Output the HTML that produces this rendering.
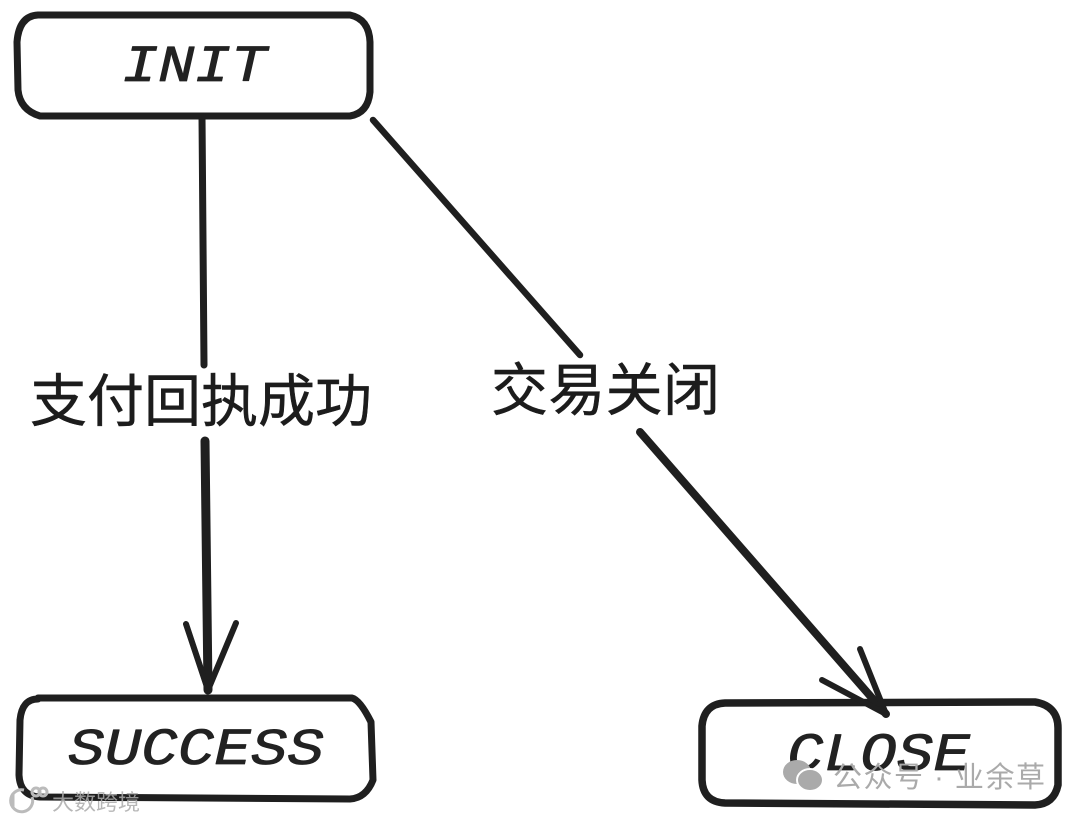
<!DOCTYPE html>
<html><head><meta charset="utf-8"><style>
html,body{margin:0;padding:0;background:#fff}
svg{display:block}
.h{font-family:"Liberation Mono",monospace;font-style:italic;fill:#222;stroke:#222;stroke-width:.8px;stroke-linejoin:round}
.c{font-family:"Liberation Sans","Noto Sans CJK SC",sans-serif;fill:#1c1c1c;stroke:#1c1c1c;stroke-width:.5px}
.w{font-family:"Liberation Sans","Noto Sans CJK SC",sans-serif;fill:#aaa}
</style></head><body>
<svg width="1080" height="820" viewBox="0 0 1080 820" xmlns="http://www.w3.org/2000/svg">
<rect width="1080" height="820" fill="#fff"/>
<g fill="none" stroke="#1f1f1f" stroke-linecap="round" stroke-linejoin="round">
<path d="M38 15 L350 15 Q369 19 370 42 L370 92 Q368 113 350 116 L40 116 Q20 110 18 90 L17 42 Q19 16 38 15Z" stroke-width="7"/>
<path d="M38 698 L352 698 Q360 700 371 722 L373 780 Q366 798 350 799 L40 797 Q20 796 19 775 L20 720 Q22 699 38 699Z" stroke-width="7"/>
<path d="M725 703 L1035 702 Q1058 706 1058 728 L1058 785 Q1054 804 1035 805 L725 803 Q703 802 702 780 L702 726 Q704 704 725 703Z" stroke-width="7.5"/>
<path d="M202 116 L204 365" stroke-width="7"/>
<path d="M205 441 L208 690" stroke-width="9"/>
<path d="M186 624 L208 690 L236 623" stroke-width="6"/>
<path d="M373 120 L580 355" stroke-width="6.5"/>
<path d="M640 432 L886 714" stroke-width="8"/>
<path d="M822 680 L886 714 L860 649" stroke-width="6"/>
</g>
<text class="h" x="122" y="81" font-size="52" textLength="145" lengthAdjust="spacingAndGlyphs">INIT</text>
<text class="h" x="68" y="764" font-size="52" textLength="256" lengthAdjust="spacingAndGlyphs">SUCCESS</text>
<text class="h" x="787" y="770" font-size="54" textLength="183" lengthAdjust="spacingAndGlyphs">CLOSE</text>
<text class="c" x="30" y="421" font-size="57" textLength="342">支付回执成功</text>
<text class="c" x="491" y="410" font-size="57" textLength="229">交易关闭</text>
<g fill="#aaa">
<ellipse cx="797" cy="772" rx="14" ry="12"/>
<ellipse cx="810" cy="780" rx="13" ry="11" stroke="#fff" stroke-width="2"/>
</g>
<text class="w" x="833" y="787" font-size="29" textLength="212">公众号 · 业余草</text>
<text class="w" x="52" y="810" font-size="22" textLength="88" fill-opacity=".85">大数跨境</text>
<g fill="none" stroke="#bbb" stroke-width="3">
<path d="M13 793 L13 808"/>
<path d="M32 797 A11 11 0 1 1 24 790"/>
<circle cx="36" cy="792" r="4"/>
<circle cx="43" cy="792" r="4"/>
</g>
</svg>
</body></html>
